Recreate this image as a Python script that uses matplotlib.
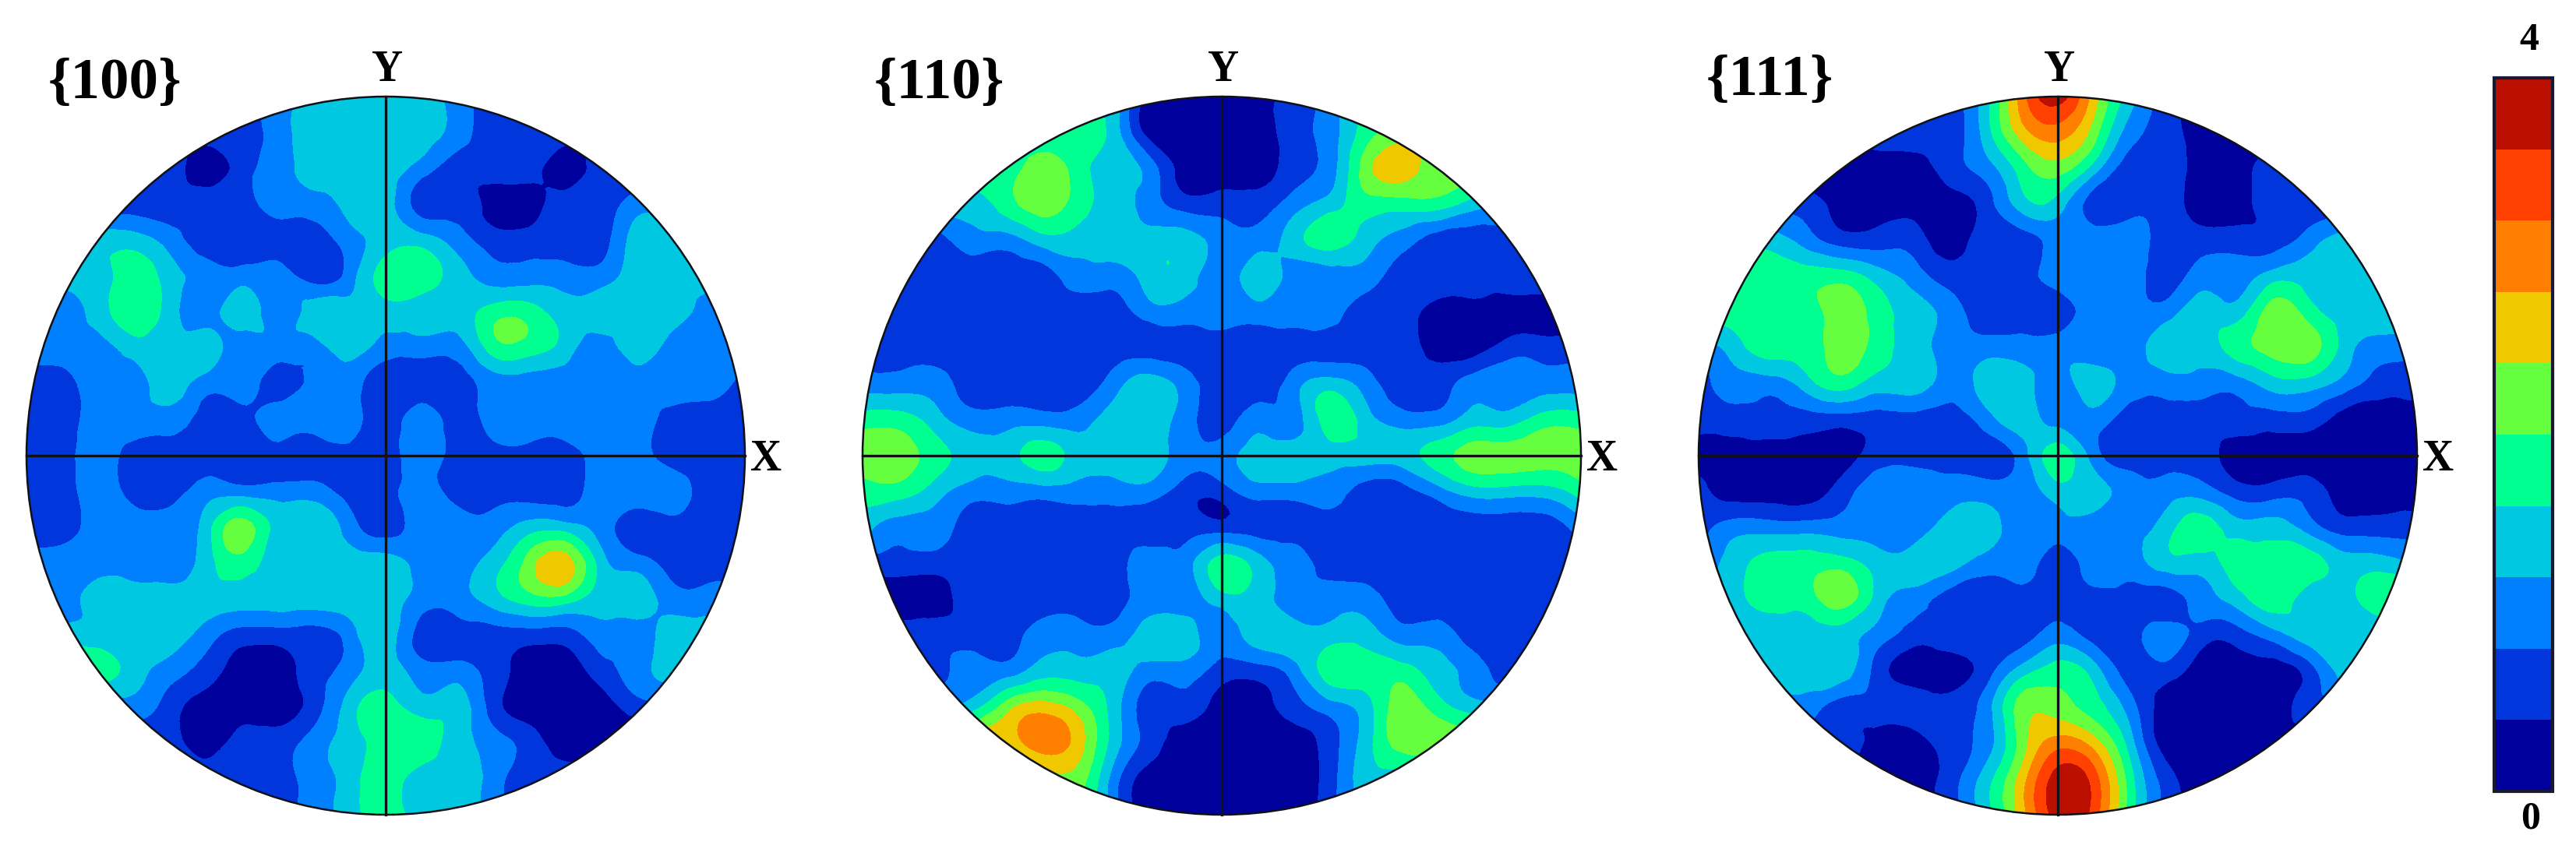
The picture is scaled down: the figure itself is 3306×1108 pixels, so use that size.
"""Pole figures {100}, {110}, {111} with a shared 0-4 contour scale."""

import matplotlib
matplotlib.use("Agg")
import matplotlib.pyplot as plt
import matplotlib.tri as mtri
import numpy as np
from matplotlib.cm import ScalarMappable
from matplotlib.colors import BoundaryNorm, ListedColormap
from matplotlib.patches import Circle

FIG_W, FIG_H = 3306, 1108

POLE_100 = [
    [1,1,1,1,1,1,1,2,3,3,3,3,2,1,1,1,1,1,1,1,1],
    [1,1,1,1,1,1,1,2,3,3,3,3,2,1,1,1,1,1,1,1,1],
    [1,1,1,1,1,0,1,2,3,3,3,2,1,1,1,0,1,1,1,1,1],
    [1,1,1,1,1,1,1,2,2,3,3,1,1,0,0,1,1,2,2,2,2],
    [3,3,3,3,2,1,1,1,1,2,3,3,2,1,1,1,1,3,3,3,3],
    [3,3,3,4,3,2,2,2,1,2,4,4,3,2,2,2,2,3,3,3,3],
    [2,2,3,4,3,2,3,2,3,3,3,3,3,4,4,3,3,3,3,2,2],
    [2,2,2,3,3,3,2,2,2,3,2,2,2,4,4,3,2,3,2,2,2],
    [1,1,2,2,3,2,2,1,2,2,1,1,1,2,2,2,2,2,2,2,1],
    [1,1,2,2,2,1,1,2,2,2,1,2,1,2,2,2,2,2,1,1,1],
    [1,1,2,1,1,1,1,1,1,1,1,2,1,1,1,1,2,2,1,1,1],
    [1,1,2,1,1,2,2,2,2,1,1,2,1,1,1,1,2,2,2,1,1],
    [1,1,2,2,2,3,5,3,3,2,1,2,2,2,3,3,2,1,1,1,1],
    [2,2,2,2,2,3,4,3,3,3,3,2,2,3,5,6,3,2,1,1,1],
    [2,2,3,3,3,3,3,3,3,3,3,2,2,3,4,4,3,3,2,2,2],
    [3,3,3,3,3,2,1,1,1,2,3,1,1,1,1,1,2,2,3,3,3],
    [4,4,4,3,2,1,0,0,1,2,3,2,2,1,0,0,1,2,3,3,3],
    [2,2,2,2,1,0,0,0,1,3,4,3,3,1,0,0,0,1,1,1,1],
    [1,1,1,1,1,0,1,1,2,3,4,4,3,2,1,0,0,0,0,0,0],
    [1,1,1,1,1,1,1,1,2,3,4,3,3,2,1,1,1,1,1,1,1],
    [1,1,1,1,1,1,1,1,2,3,4,3,3,2,1,1,1,1,1,1,1],
]
POLE_110 = [
    [4,4,4,4,4,4,4,3,0,0,0,0,1,2,4,4,4,4,4,4,4],
    [4,4,4,4,4,4,4,3,0,0,0,0,1,2,4,5,5,5,5,5,5],
    [4,4,4,4,4,5,4,3,2,0,0,0,1,2,5,6,5,5,5,5,5],
    [3,3,3,3,4,5,4,3,2,1,1,1,2,3,4,4,4,3,3,3,3],
    [1,1,1,2,2,3,3,3,3,3,2,2,3,4,3,2,1,1,1,1,1],
    [1,1,1,1,1,1,2,2,3,3,2,3,2,2,2,1,1,1,1,1,1],
    [1,1,1,1,1,1,1,1,2,2,2,2,2,2,1,1,0,0,0,0,0],
    [1,1,1,1,1,1,1,1,1,1,1,1,1,1,1,1,0,0,1,1,1],
    [2,2,2,1,1,1,1,2,3,2,1,1,2,3,2,1,1,2,2,2,2],
    [4,4,3,2,2,2,2,3,3,2,1,2,2,4,3,2,2,3,3,4,4],
    [5,5,4,3,3,4,3,3,3,2,2,3,3,3,3,3,4,5,5,5,5],
    [4,4,3,2,2,2,2,2,2,1,1,2,2,2,1,1,2,3,3,3,4],
    [3,2,2,1,1,1,1,1,1,1,1,1,1,1,1,1,1,1,1,1,2],
    [1,1,1,1,1,1,1,1,2,2,4,3,2,1,1,1,1,1,1,1,1],
    [0,0,0,1,1,1,1,1,2,2,3,3,2,2,2,1,1,1,1,1,1],
    [1,1,1,1,1,2,2,2,3,3,2,3,3,3,3,2,2,1,1,1,1],
    [1,1,1,2,2,3,3,3,2,2,1,1,2,4,4,4,3,2,1,1,1],
    [3,3,3,3,5,6,5,3,1,1,0,0,1,2,3,5,4,3,3,3,3],
    [6,6,6,6,6,7,6,3,1,0,0,0,0,1,3,5,5,5,5,5,5],
    [5,5,5,5,5,5,5,2,0,0,0,0,0,1,3,3,3,3,3,3,3],
    [5,5,5,5,5,5,5,2,0,0,0,0,0,1,3,3,3,3,3,3,3],
]
POLE_111 = [
    [1,1,1,1,1,1,1,1,3,7,9,6,3,1,0,0,0,0,0,0,0],
    [1,1,1,1,1,1,1,1,3,6,7,5,2,1,0,0,0,0,0,0,0],
    [0,0,0,0,0,0,0,1,2,4,5,3,1,1,0,0,1,1,1,1,1],
    [1,1,1,1,0,0,0,0,1,3,3,1,1,1,0,0,1,1,1,1,1],
    [3,3,3,2,1,1,1,0,1,1,2,2,2,1,1,1,1,2,3,3,3],
    [4,4,4,4,4,3,2,1,1,1,2,2,2,1,2,2,3,3,3,3,3],
    [4,4,4,4,5,4,3,2,1,1,1,2,2,2,3,3,5,4,3,3,3],
    [2,3,4,4,5,4,3,2,2,2,2,2,2,3,3,4,5,5,3,2,2],
    [1,2,2,3,4,3,3,2,3,3,2,3,2,2,2,2,3,3,2,1,1],
    [1,1,1,1,1,1,1,1,2,3,2,2,1,1,1,1,1,1,0,0,0],
    [0,0,0,0,0,1,1,1,1,2,4,2,1,1,1,0,0,0,0,0,0],
    [1,0,0,0,1,2,2,2,2,2,3,3,2,2,2,1,1,1,0,0,0],
    [1,2,2,2,2,2,2,3,3,2,2,2,2,3,4,3,3,2,1,1,1],
    [2,3,4,4,4,3,3,3,2,2,1,2,2,3,3,4,4,4,3,3,2],
    [2,3,4,4,5,3,2,1,1,1,1,1,1,1,2,3,4,3,3,4,4],
    [3,3,3,3,3,2,1,1,1,1,2,1,1,2,1,1,2,3,3,3,3],
    [3,3,3,3,3,1,0,0,1,3,4,3,1,1,0,0,0,1,3,3,3],
    [2,2,2,2,1,1,1,1,2,5,5,4,2,0,0,0,0,1,1,1,1],
    [1,1,1,1,1,0,0,1,2,5,7,6,3,0,0,0,0,0,0,0,0],
    [0,0,0,0,0,0,0,1,3,6,9,8,4,1,0,0,0,0,0,0,0],
    [0,0,0,0,0,0,0,1,3,6,9,8,4,1,0,0,0,0,0,0,0],
]

PANEL_LABELS = ["{100}", "{110}", "{111}"]
SCALE_LEVELS = [0.0, 0.4, 0.8, 1.2, 1.6, 2.0, 2.4, 2.8, 3.2, 3.6, 4.0]
BAND_COLORS = ["#00009c", "#0036dc", "#0080ff", "#00c8e0", "#00ff90",
               "#66ff40", "#f0c800", "#ff8000", "#ff4000", "#bb1000"]

plt.rcParams["font.family"] = ["Liberation Serif", "DejaVu Serif"]
plt.rcParams["font.weight"] = "bold"

cmap = ListedColormap(BAND_COLORS)
cmap.set_under(BAND_COLORS[0])
cmap.set_over(BAND_COLORS[-1])
norm = BoundaryNorm(SCALE_LEVELS, cmap.N)

fig = plt.figure(figsize=(FIG_W / 100, FIG_H / 100), dpi=100)


def px_axes(left, top, width, height):
    return fig.add_axes([left / FIG_W, 1 - (top + height) / FIG_H,
                         width / FIG_W, height / FIG_H])


# centre x of each disc in pixels, shared centre y and radius
centres = [495, 1568, 2641]
cy, radius = 585, 461
label_left = [62, 1122, 2190]
label_y = [108, 108, 104]

axis_grid = np.linspace(-1, 1, 21)
gx, gy = np.meshgrid(axis_grid, axis_grid[::-1])
tri = mtri.Triangulation(gx.ravel(), gy.ravel())
refiner = mtri.UniformTriRefiner(tri)

for cx, grid, name, lx, ly in zip(centres, [POLE_100, POLE_110, POLE_111],
                                  PANEL_LABELS, label_left, label_y):
    ax = px_axes(cx - radius - 5, cy - radius - 5, 2 * radius + 10, 2 * radius + 10)
    pad = 1 + 5 / radius
    ax.set_xlim(-pad, pad)
    ax.set_ylim(-pad, pad)
    ax.axis("off")

    z = (np.array(grid, dtype=float) + 0.5) * 0.4
    tri_f, z_f = refiner.refine_field(z.ravel(), subdiv=3)
    cs = ax.tricontourf(tri_f, z_f, levels=SCALE_LEVELS, cmap=cmap, norm=norm, extend="both")
    disc = Circle((0, 0), 1, transform=ax.transData, fc="none", ec="none")
    ax.add_patch(disc)
    cs.set_clip_path(disc)

    ax.plot([-1, 1], [0, 0], color="#101018", lw=2.4)
    ax.plot([0, 0], [-1, 1], color="#101018", lw=2.4)
    ax.add_patch(Circle((0, 0), 1, fc="none", ec="#101018", lw=1.8))

    fig.text((cx + 2) / FIG_W, 1 - 90 / FIG_H, "Y", fontsize=40, ha="center", va="center")
    fig.text((cx + radius + 27) / FIG_W, 1 - 590 / FIG_H, "X", fontsize=40, ha="center", va="center")
    fig.text(lx / FIG_W, 1 - ly / FIG_H, name, fontsize=54, ha="left", va="center")

# colour scale
cax = px_axes(3201, 100, 75, 916)
sm = ScalarMappable(norm=norm, cmap=cmap)
cb = fig.colorbar(sm, cax=cax, ticks=[], spacing="uniform")
cb.outline.set_edgecolor("#181830")
cb.outline.set_linewidth(3)
cb.ax.tick_params(size=0, which="both")
cb.ax.minorticks_off()
fig.text(3246 / FIG_W, 1 - 52 / FIG_H, "4", fontsize=36, ha="center", va="center")
fig.text(3248 / FIG_W, 1 - 1052 / FIG_H, "0", fontsize=36, ha="center", va="center")

fig.savefig("out.png", dpi=100)
plt.close(fig)
